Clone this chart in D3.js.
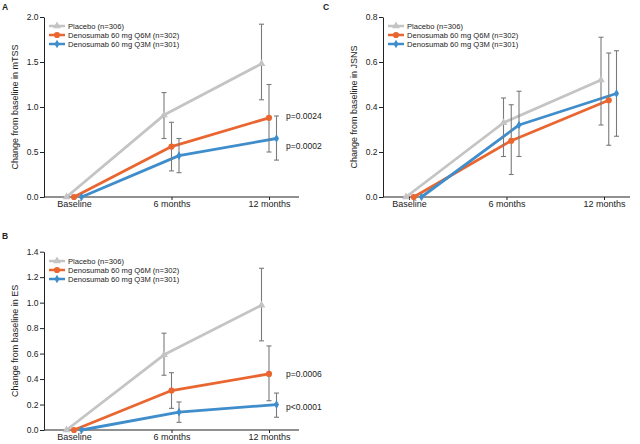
<!DOCTYPE html>
<html>
<head>
<meta charset="utf-8">
<script src="https://cdn.jsdelivr.net/npm/d3@7"></script>
<style>
  html, body { margin: 0; padding: 0; background: #fff; }
  svg { display: block; font-family: "Liberation Sans", Arial, sans-serif; }
</style>
</head>
<body>
<svg id="chart" width="640" height="444"></svg>
<script>
// ---------- data ----------
const categories = ["Baseline", "6 months", "12 months"];
const seriesNames = ["Placebo (n=306)", "Denosumab 60 mg Q6M (n=302)", "Denosumab 60 mg Q3M (n=301)"];

// Panel A: mTSS
const mtssMean  = [[0, 0.91, 1.48], [0, 0.56, 0.88], [0, 0.46, 0.65]];
const mtssUpper = [[null, 1.16, 1.92], [null, 0.83, 1.25], [null, 0.65, 0.90]];
const mtssLower = [[null, 0.65, 1.08], [null, 0.29, 0.50], [null, 0.27, 0.41]];
const mtssTicks = [0, 0.5, 1.0, 1.5, 2.0];
const mtssP = ["p=0.0024", "p=0.0002"];
const mtssPAt = [0.90, 0.57];

// Panel B: ES
const esMean  = [[0, 0.59, 0.98], [0, 0.31, 0.44], [0, 0.14, 0.20]];
const esUpper = [[null, 0.76, 1.27], [null, 0.45, 0.66], [null, 0.22, 0.29]];
const esLower = [[null, 0.43, 0.70], [null, 0.17, 0.23], [null, 0.06, 0.10]];
const esTicks = [0, 0.2, 0.4, 0.6, 0.8, 1.0, 1.2, 1.4];
const esP = ["p=0.0006", "p<0.0001"];
const esPAt = [0.44, 0.18];

// Panel C: JSNS
const jsnsMean  = [[0, 0.33, 0.52], [0, 0.25, 0.43], [0, 0.32, 0.46]];
const jsnsUpper = [[null, 0.44, 0.71], [null, 0.41, 0.64], [null, 0.47, 0.65]];
const jsnsLower = [[null, 0.18, 0.32], [null, 0.10, 0.23], [null, 0.18, 0.27]];
const jsnsTicks = [0, 0.2, 0.4, 0.6, 0.8];

// ---------- styles ----------
const colors = ["#c4c4c4", "#ea6630", "#3f8dcb"];
const markers = [d3.symbolTriangle, d3.symbolCircle, d3.symbolDiamond];
const markerSizes = [26, 30, 22];
const errColor = "#7a7a7a";

const svg = d3.select("#chart");

function drawPanel(cfg) {
  const g = svg.append("g");
  const x = d3.scalePoint().domain(categories).range([cfg.c0, cfg.c1]);
  const off = d3.scalePoint().domain(seriesNames).range([cfg.offA, cfg.offB]);
  const y = d3.scaleLinear().domain([0, cfg.ymax]).range([cfg.y0, cfg.y1]);

  // panel letter
  g.append("text").attr("x", cfg.letterX).attr("y", cfg.letterY)
    .attr("font-size", 8.5).attr("font-weight", "bold").attr("fill", "#222").text(cfg.letter);

  // y axis
  const ya = g.append("g").attr("transform", `translate(${cfg.ax0},0)`)
    .call(d3.axisLeft(y).tickValues(cfg.ticks).tickFormat(d3.format(".1f")).tickSize(4).tickSizeOuter(0));
  ya.select(".domain").attr("stroke", "#222");
  ya.selectAll(".tick line").attr("stroke", "#222");
  ya.selectAll(".tick text").attr("font-size", 8.5).attr("fill", "#222")
    .attr("font-family", "Liberation Sans, Arial, sans-serif").attr("x", -5.5);

  // x axis
  const xa = g.append("g").attr("transform", `translate(0,${cfg.y0})`)
    .call(d3.axisBottom(x).tickSize(3).tickSizeOuter(0));
  xa.select(".domain").remove();
  xa.append("line").attr("x1", cfg.ax0).attr("x2", cfg.ax1).attr("y1", 0).attr("y2", 0).attr("stroke", "#222");
  xa.selectAll(".tick line").attr("stroke", "#222");
  xa.selectAll(".tick text").attr("font-size", 9).attr("fill", "#222")
    .attr("font-family", "Liberation Sans, Arial, sans-serif").attr("y", 5).attr("dy", "0.6em");

  // y title
  g.append("text")
    .attr("transform", `translate(${cfg.titleX},${(cfg.y0 + cfg.y1) / 2}) rotate(-90)`)
    .attr("text-anchor", "middle").attr("dy", "0.35em")
    .attr("font-size", 9).attr("fill", "#222").text(cfg.title);

  const px = (si, ci) => x(categories[ci]) + off(seriesNames[si]);
  const line = d3.line().x(d => d[0]).y(d => d[1]);

  // lines
  cfg.mean.forEach((vals, si) => {
    const pts = vals.map((v, ci) => [px(si, ci), y(v)]);
    g.append("path").attr("d", line(pts)).attr("fill", "none")
      .attr("stroke", colors[si]).attr("stroke-width", 2.8).attr("stroke-linejoin", "round");
  });

  // error bars
  cfg.mean.forEach((vals, si) => {
    vals.forEach((v, ci) => {
      const up = cfg.upper[si][ci], lo = cfg.lower[si][ci];
      if (up == null || lo == null) return;
      const cx = px(si, ci);
      const eg = g.append("g").attr("stroke", errColor).attr("stroke-width", 1.1);
      eg.append("line").attr("x1", cx).attr("x2", cx).attr("y1", y(up)).attr("y2", y(lo));
      eg.append("line").attr("x1", cx - 2.5).attr("x2", cx + 2.5).attr("y1", y(up)).attr("y2", y(up));
      eg.append("line").attr("x1", cx - 2.5).attr("x2", cx + 2.5).attr("y1", y(lo)).attr("y2", y(lo));
    });
  });

  // markers
  cfg.mean.forEach((vals, si) => {
    vals.forEach((v, ci) => {
      g.append("path").attr("d", d3.symbol().type(markers[si]).size(markerSizes[si])())
        .attr("transform", `translate(${px(si, ci)},${y(v)})`).attr("fill", colors[si]);
    });
  });

  // legend
  seriesNames.forEach((name, si) => {
    const ly = cfg.legY + si * 9;
    g.append("line").attr("x1", cfg.legX).attr("x2", cfg.legX + 16).attr("y1", ly).attr("y2", ly)
      .attr("stroke", colors[si]).attr("stroke-width", 2.5);
    g.append("path").attr("d", d3.symbol().type(markers[si]).size(markerSizes[si])())
      .attr("transform", `translate(${cfg.legX + 8},${ly})`).attr("fill", colors[si]);
    g.append("text").attr("x", cfg.legX + 19).attr("y", ly).attr("dy", "0.35em")
      .attr("font-size", 7.6).attr("fill", "#222").text(name);
  });

  // p-values
  if (cfg.p) {
    cfg.p.forEach((t, i) => {
      g.append("text").attr("x", cfg.pX).attr("y", y(cfg.pAt[i])).attr("dy", "0.35em")
        .attr("font-size", 8.5).attr("fill", "#222").text(t);
    });
  }
}

drawPanel({
  letter: "A", letterX: 2, letterY: 10,
  mean: mtssMean, upper: mtssUpper, lower: mtssLower, ticks: mtssTicks, ymax: 2.0,
  y0: 197, y1: 17, ax0: 44, ax1: 299, c0: 74, c1: 269, offA: -7.5, offB: 7.5,
  title: "Change from baseline in mTSS", titleX: 15,
  legX: 49, legY: 26, p: mtssP, pAt: mtssPAt, pX: 286
});

drawPanel({
  letter: "B", letterX: 2, letterY: 239,
  mean: esMean, upper: esUpper, lower: esLower, ticks: esTicks, ymax: 1.4,
  y0: 430, y1: 251.7, ax0: 44, ax1: 299, c0: 74, c1: 269, offA: -7.5, offB: 7.5,
  title: "Change from baseline in ES", titleX: 15,
  legX: 49, legY: 261, p: esP, pAt: esPAt, pX: 286
});

drawPanel({
  letter: "C", letterX: 323, letterY: 10,
  mean: jsnsMean, upper: jsnsUpper, lower: jsnsLower, ticks: jsnsTicks, ymax: 0.8,
  y0: 197, y1: 17, ax0: 383, ax1: 630, c0: 409, c1: 604, offA: -3, offB: 12.5,
  title: "Change from baseline in JSNS", titleX: 354,
  legX: 388, legY: 26
});
</script>
</body>
</html>
